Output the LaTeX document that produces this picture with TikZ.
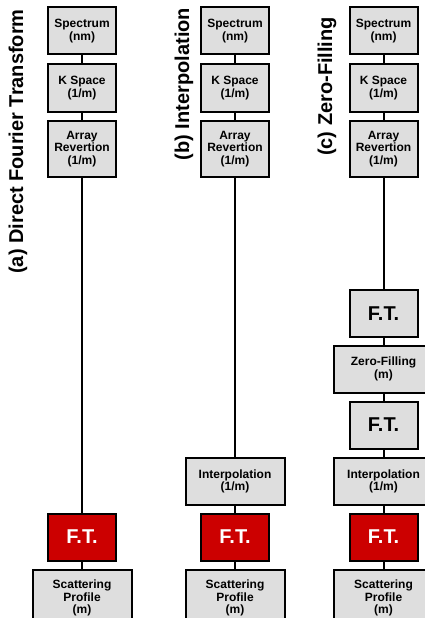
\documentclass[tikz,border=0pt]{standalone}
\usepackage{fontspec}
\setmainfont{Liberation Sans}
\definecolor{boxgray}{RGB}{222,222,222}
\definecolor{ftred}{RGB}{204,0,0}
\tikzset{
  box/.style={draw, line width=2pt, fill=boxgray, minimum width=68pt, minimum height=47pt,
    inner sep=0pt, align=center, font=\bfseries\fontsize{12}{12.5}\selectfont},
  tallbox/.style={box, minimum height=56pt},
  widebox/.style={box, minimum width=99pt},
  widetallbox/.style={widebox, minimum height=56pt},
  ftbox/.style={box, font=\bfseries\fontsize{20}{22}\selectfont},
  redft/.style={ftbox, fill=ftred, text=white},
  title/.style={rotate=90, inner sep=0pt, font=\bfseries\fontsize{20}{22}\selectfont},
  link/.style={line width=2pt},
}

\begin{document}
\begin{tikzpicture}[%
x=1pt, y=-1pt,
]
\useasboundingbox (0,0) rectangle (425,618);
\clip (0,0) rectangle (425,618);
%% titles;
\node[title] (ta) at (18,141.5) {(a) Direct Fourier Transform};
\node[title] (tb) at (184,84) {(b) Interpolation};
\node[title] (tc) at (327,86.5) {(c) Zero-Filling};
%% column a;
\node[box] (a1) at (82,31) {Spectrum\\(nm)};
\node[box] (a2) at (82,88) {K Space\\(1/m)};
\node[tallbox] (a3) at (82,149) {Array\\Revertion\\(1/m)};
\node[redft] (a4) at (82,537) {F.T.};
\node[widetallbox] (a5) at (82,598) {Scattering\\Profile\\(m)};
\draw[link] (a1) -- (a2) -- (a3) -- (a4) -- (a5);
%% column b;
\node[box] (b1) at (235,31) {Spectrum\\(nm)};
\node[box] (b2) at (235,88) {K Space\\(1/m)};
\node[tallbox] (b3) at (235,149) {Array\\Revertion\\(1/m)};
\node[widebox] (b4) at (235,481.5) {Interpolation\\(1/m)};
\node[redft] (b5) at (235,537) {F.T.};
\node[widetallbox] (b6) at (235,598) {Scattering\\Profile\\(m)};
\draw[link] (b1) -- (b2) -- (b3) -- (b4) -- (b5) -- (b6);
%% column c;
\node[box] (c1) at (383.5,31) {Spectrum\\(nm)};
\node[box] (c2) at (383.5,88) {K Space\\(1/m)};
\node[tallbox] (c3) at (383.5,149) {Array\\Revertion\\(1/m)};
\node[ftbox] (c4) at (383.5,313.5) {F.T.};
\node[widebox] (c5) at (383.5,369) {Zero-Filling\\(m)};
\node[ftbox] (c6) at (383.5,425) {F.T.};
\node[widebox] (c7) at (383.5,481.5) {Interpolation\\(1/m)};
\node[redft] (c8) at (383.5,537) {F.T.};
\node[widetallbox] (c9) at (383.5,598) {Scattering\\Profile\\(m)};
\draw[link] (c1) -- (c2) -- (c3) -- (c4) -- (c5) -- (c6) -- (c7) -- (c8) -- (c9);
\end{tikzpicture}
\end{document}
